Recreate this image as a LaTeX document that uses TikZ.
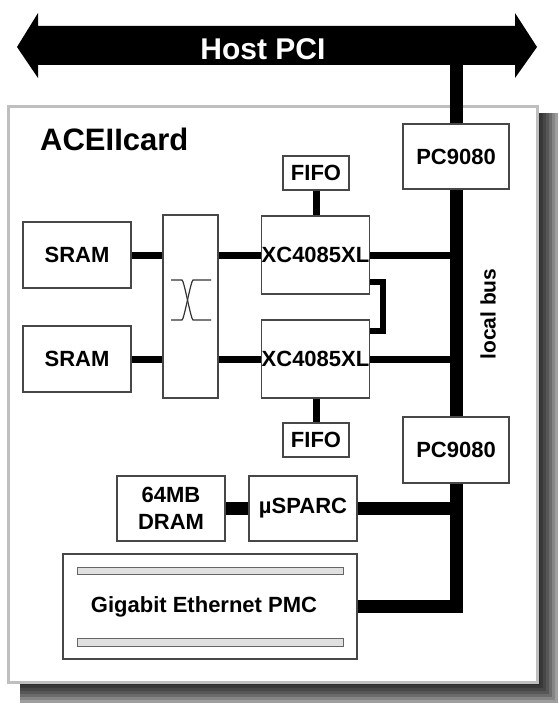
\documentclass[tikz,border=0pt]{standalone}
\usepackage{fontspec}
\setmainfont{Liberation Sans}
\usetikzlibrary{calc}
\begin{document}
\begin{tikzpicture}[x=1pt,y=-1pt,
  box/.style={draw=black!72,line width=1.5pt,fill=white,inner sep=0pt,
    font=\fontsize{22}{27}\selectfont\bfseries,align=center},
  lbl/.style={inner sep=0pt,font=\fontsize{22}{27}\selectfont\bfseries},
  wirethin/.style={line width=7pt,draw=black},
  wirelink/.style={line width=6pt,draw=black},
  wirethick/.style={line width=13pt,draw=black},
  slot/.style={draw=black!60,fill=black!12,line width=1pt},
  xsym/.style={draw=black!80,line width=1.2pt}]
\useasboundingbox (0,0) rectangle (558,706);

% card shadow
\foreach \d/\c in {21/38,18/48,15/58,12/66,9/72,6/78,3/82}
  \fill[black!\c] (20,113) rectangle (537+\d,682+\d);
% card
\draw[draw=black!25,line width=3pt,fill=white] (8,107) rectangle (537,682);
\node[anchor=base west,inner sep=0pt,font=\fontsize{31}{36}\selectfont\bfseries] (cardtitle) at (40,150) {ACEIIcard};

% host PCI bus
\fill[black] (17,47) -- (38,13) -- (38,26) -- (515,26) -- (515,13) -- (537,47)
  -- (515,78) -- (515,65) -- (38,65) -- (38,78) -- cycle;
\node[anchor=base,inner sep=0pt,text=white,font=\fontsize{30}{36}\selectfont\bfseries] (hostpci) at (263,60) {Host PCI};
\coordinate (pcitap) at (456,64);

% nodes
\node[box,minimum width=108pt,minimum height=66pt] (sram1) at (77,255) {SRAM};
\node[box,minimum width=108pt,minimum height=66pt] (sram2) at (77,359) {SRAM};
\node[box,minimum width=55pt,minimum height=183pt] (xbar) at (190.5,306.5) {};
\node[box,minimum width=107pt,minimum height=78pt] (xc1) at (315.5,255) {XC4085XL};
\node[box,minimum width=107pt,minimum height=78pt] (xc2) at (315.5,359) {XC4085XL};
\node[box,minimum width=66pt,minimum height=34pt] (fifo1) at (316,173) {FIFO};
\node[box,minimum width=66pt,minimum height=34pt] (fifo2) at (316,440) {FIFO};
\node[box,minimum width=106pt,minimum height=65pt] (pc1) at (456,156.5) {PC9080};
\node[box,minimum width=106pt,minimum height=66pt] (pc2) at (456,450) {PC9080};
\node[box,minimum width=108pt,minimum height=65pt] (dram) at (171,508.5) {64MB\\DRAM};
\node[box,minimum width=108pt,minimum height=65pt] (sparc) at (303,508.5) {µSPARC};
\node[box,minimum width=294pt,minimum height=105pt] (gig) at (210,606.5) {};
\node[lbl] (giglabel) at (204,607) {Gigabit Ethernet PMC};
\node[lbl,rotate=90,font=\fontsize{21}{25}\selectfont\bfseries] (lbus) at (488,314) {local bus};

% slots of the PMC card
\draw[slot] (77,567) rectangle (343,574);
\draw[slot] (77,638) rectangle (343,646);

% crossbar symbol
\draw[xsym] (171,280) -- (182,280) .. controls (184,280) and (191,320) .. (193,320) -- (211,320);
\draw[xsym] (211,280) -- (193,280) .. controls (191,280) and (184,320) .. (182,320) -- (171,320);

% thin connectors
\draw[wirethin] (sram1.east) -- (sram1.east -| xbar.west);
\draw[wirethin] (sram2.east) -- (sram2.east -| xbar.west);
\draw[wirethin] (xc1.west -| xbar.east) -- (xc1.west);
\draw[wirethin] (xc2.west -| xbar.east) -- (xc2.west);
\draw[wirethin] (xc1.east) -- (xc1.east -| pc1.center);
\draw[wirethin] (xc2.east) -- (xc2.east -| pc1.center);
\draw[wirethin] (fifo1.south) -- (xc1.north -| fifo1.south);
\draw[wirethin] (xc2.south -| fifo2.north) -- (fifo2.north);
\draw[wirelink] ($(xc1.south east)+(0,-13)$) -| ($(xc2.north east)+(13,12)$) -- ($(xc2.north east)+(0,12)$);

% thick connectors (local bus)
\draw[wirethick] (pcitap) -- (pc1.north);
\draw[wirethick] (pc1.south) -- (pc2.north);
\draw[wirethick] (pc2.south) |- (gig.east);
\draw[wirethick] (sparc.east) -- (sparc.east -| pc2.south);
\draw[wirethick] (dram.east) -- (sparc.west);
\end{tikzpicture}
\end{document}
